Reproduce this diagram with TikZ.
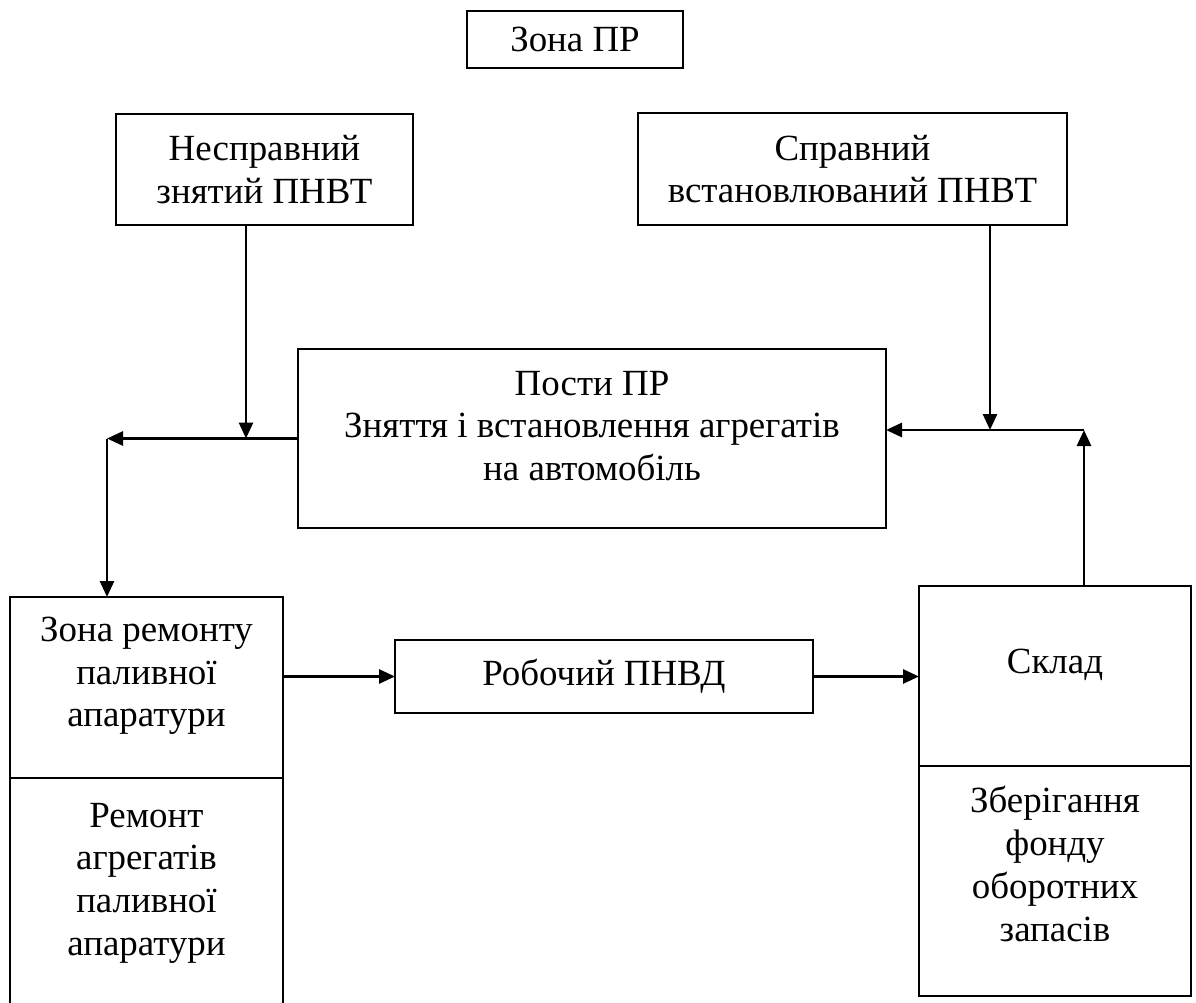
\documentclass[tikz,border=0pt]{standalone}
\usepackage{fontspec}
\setmainfont{Liberation Serif}
\usepackage{tikz}
\usetikzlibrary{positioning, calc, arrows.meta}

\begin{document}
\begin{tikzpicture}[
        >={Triangle[length=0.32cm, width=0.28cm]},
        box/.style={draw, line width=1.1pt, inner sep=0pt, outer sep=0pt, align=center,
                    font=\fontsize{21}{24.3}\selectfont},
        lbl/.style={inner sep=0pt, align=center, font=\fontsize{21}{24.3}\selectfont},
        arrow_style/.style={->, line width=1.6pt}
    ]
    \useasboundingbox (0,0) rectangle (23.92,-20.06);

    % =========================================================================
    % 1. TOP LEVEL (Zone title and removed / installed units)
    % =========================================================================
    \node[box, minimum width=4.32cm, minimum height=1.14cm] (zona) at (11.50,-0.79) {Зона ПР};
    \node[box, minimum width=5.94cm, minimum height=2.22cm] (nespr) at (5.29,-3.39) {Несправний\\знятий ПНВТ};
    \node[box, minimum width=8.58cm, minimum height=2.24cm] (spr) at (17.05,-3.38) {Справний\\встановлюваний ПНВТ};

    % =========================================================================
    % 2. REPAIR POSTS (Middle)
    % =========================================================================
    \node[box, minimum width=11.76cm, minimum height=3.58cm] (posty) at (11.84,-8.77) {};
    \node[lbl] (postyT) at (11.84,-8.52) {Пости ПР\\Зняття і встановлення агрегатів\\на автомобіль};

    % =========================================================================
    % 3. BOTTOM LEVEL (Repair zone, working pump, store)
    % =========================================================================
    % Left split box, its lower part runs off the page
    \node[box, minimum width=5.46cm, minimum height=3.62cm] (zrem) at (2.93,-13.75) {};
    \node[box, minimum width=5.46cm, minimum height=4.90cm, anchor=north] (zremlow) at (zrem.south) {};
    \node[lbl] (zremT) at (2.93,-13.52) {Зона ремонту\\паливної\\апаратури};
    \node[lbl] (zremlowT) at (2.93,-17.66) {Ремонт\\агрегатів\\паливної\\апаратури};

    \node[box, minimum width=8.36cm, minimum height=1.46cm] (rob) at (12.08,-13.53) {Робочий ПНВД};

    % Right split box
    \node[box, minimum width=5.44cm, minimum height=3.60cm] (sklad) at (21.10,-13.52) {};
    \node[box, minimum width=5.44cm, minimum height=4.60cm, anchor=north] (skladlow) at (sklad.south) {};
    \node[lbl] (skladT) at (21.10,-13.30) {Склад};
    \node[lbl] (skladlowT) at (21.10,-17.28) {Зберігання\\фонду\\оборотних\\запасів};

    % Corner points of the flow lines
    \coordinate (jL) at (4.92,-8.77);   % drop of the removed unit
    \coordinate (cL) at (2.14,-8.77);   % left turn
    \coordinate (jR) at (19.80,-8.60);  % drop of the installed unit
    \coordinate (cR) at (21.68,-8.60);  % right turn

    % =========================================================================
    % 4. FLOW ARROWS
    % =========================================================================
    \draw[arrow_style] (nespr.south -| jL) -- (jL);
    \draw[arrow_style] (posty.west) -- (cL);
    \draw[arrow_style] (cL) -- (cL |- zrem.north);
    \draw[arrow_style] (rob.west -| zrem.east) -- (rob.west);
    \draw[arrow_style] (rob.east) -- (rob.east -| sklad.west);
    \draw[arrow_style] (cR |- sklad.north) -- (cR);
    \draw[arrow_style] (cR) -- (cR -| posty.east);
    \draw[arrow_style] (spr.south -| jR) -- (jR);

\end{tikzpicture}
\end{document}
